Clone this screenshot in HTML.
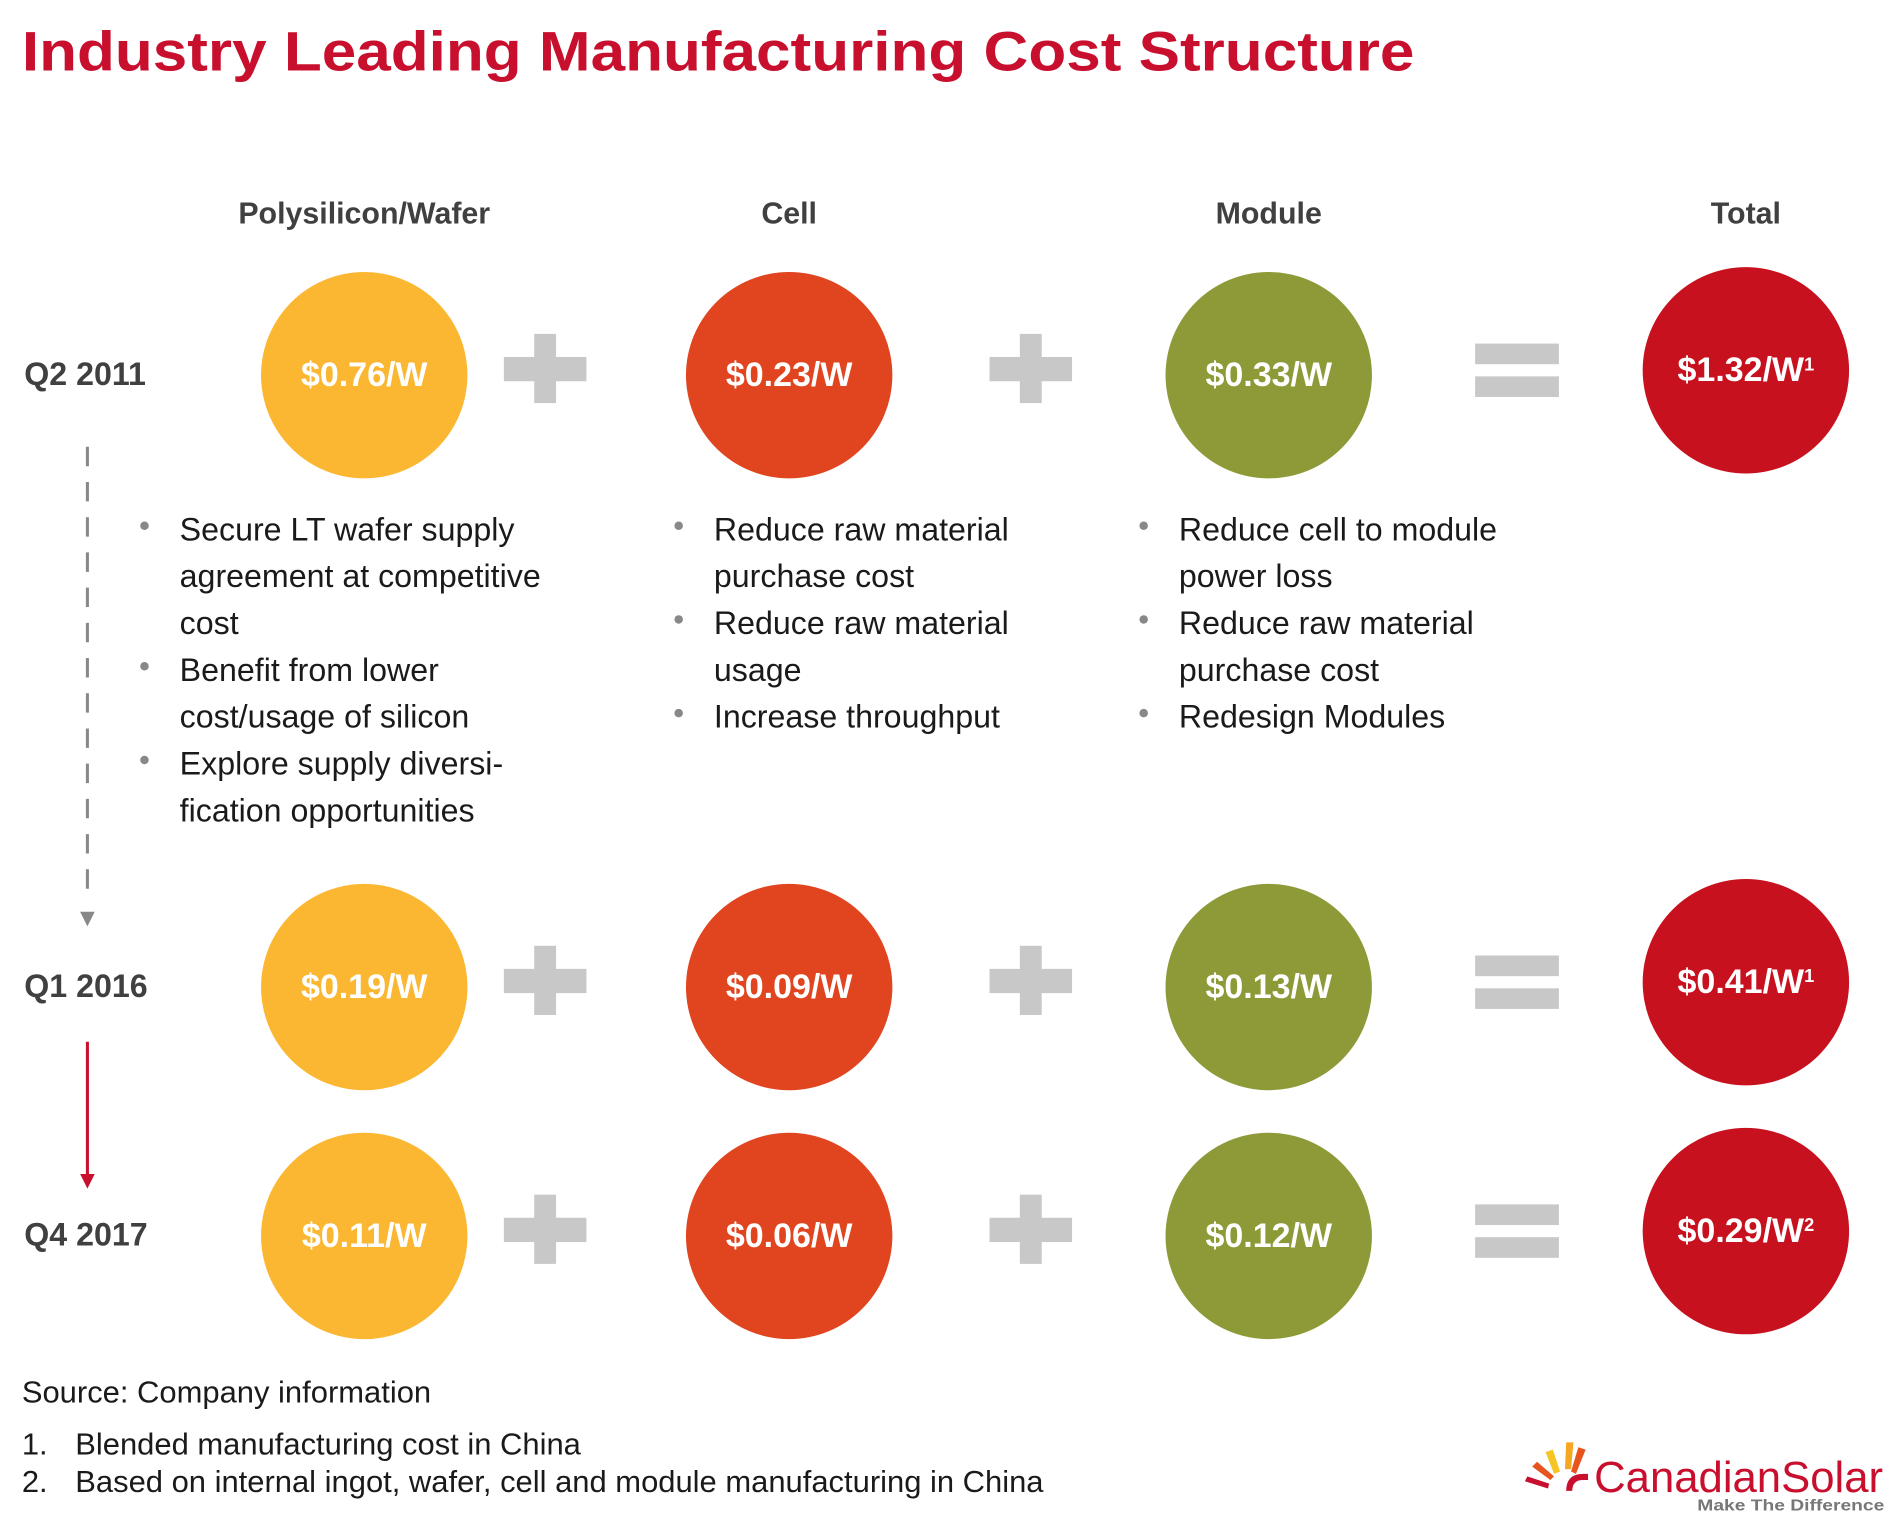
<!DOCTYPE html>
<html><head><meta charset="utf-8"><style>
html,body{margin:0;padding:0;background:#fff}
svg{display:block}
text{font-family:"Liberation Sans",sans-serif}
</style></head><body>
<svg id="chart" width="1894" height="1514" viewBox="0 0 1560 1247" xmlns="http://www.w3.org/2000/svg">
<text x="18" y="58" font-size="46" font-weight="bold" fill="#c8102e" textLength="1147" lengthAdjust="spacingAndGlyphs">Industry Leading Manufacturing Cost Structure</text>
<g id="headers" font-size="25" font-weight="bold" fill="#404040" text-anchor="middle"></g>
<g id="rows"></g>
<g id="ops" fill="#c8c8c8"></g>
<g>
<line x1="72" y1="368" x2="72" y2="745" stroke="#888" stroke-width="2.5" stroke-dasharray="16,13"/>
<polygon points="66,751 78,751 72,763" fill="#888"/>
</g>
<g>
<line x1="72" y1="858" x2="72" y2="970" stroke="#c8102e" stroke-width="2.5"/>
<polygon points="66,967 78,967 72,979" fill="#c8102e"/>
</g>
<g id="bullets" font-size="26.5" fill="#1a1a1a"></g>
<g font-size="25.5" fill="#1a1a1a">
<text x="18" y="1155">Source: Company information</text>
<text x="18" y="1198">1.</text><text x="62" y="1198">Blended manufacturing cost in China</text>
<text x="18" y="1229">2.</text><text x="62" y="1229">Based on internal ingot, wafer, cell and module manufacturing in China</text>
</g>
<g>
<polygon points="1290,1188 1296,1188 1294,1210 1289,1210" fill="#f5a623"/>
<polygon points="1300,1192 1306,1194 1298,1214 1294,1212" fill="#e8541e"/>
<polygon points="1273,1196 1279,1194 1285,1212 1280,1214" fill="#f5c623"/>
<polygon points="1262,1208 1266,1204 1280,1216 1277,1219" fill="#e8541e"/>
<polygon points="1256,1220 1258,1216 1276,1222 1275,1226" fill="#c8102e"/>
<path d="M1290,1228 q0,-14 14,-14 h4 v5 h-4 q-9,0 -9,9 z" fill="#c8102e"/>
<text x="1313" y="1229" font-size="36" fill="#c8102e" textLength="238" lengthAdjust="spacingAndGlyphs">CanadianSolar</text>
<text x="1398" y="1244" font-size="13" font-weight="bold" fill="#777" textLength="154" lengthAdjust="spacingAndGlyphs">Make The Difference</text>
</g>
</svg>
<script>
const categories = ["Polysilicon/Wafer", "Cell", "Module", "Total"];
const periods = ["Q2 2011", "Q1 2016", "Q4 2017"];
const waferValues = ["$0.76/W", "$0.19/W", "$0.11/W"];
const cellValues = ["$0.23/W", "$0.09/W", "$0.06/W"];
const moduleValues = ["$0.33/W", "$0.13/W", "$0.12/W"];
const totalValues = ["$1.32/W", "$0.41/W", "$0.29/W"];
const totalNotes = ["1", "1", "2"];
const bulletsWafer = [["Secure LT wafer supply","agreement at competitive","cost"],["Benefit from lower","cost/usage of silicon"],["Explore supply diversi-","fication opportunities"]];
const bulletsCell = [["Reduce raw material","purchase cost"],["Reduce raw material","usage"],["Increase throughput"]];
const bulletsModule = [["Reduce cell to module","power loss"],["Reduce raw material","purchase cost"],["Redesign Modules"]];

const NS = "http://www.w3.org/2000/svg";
const colX = i => [300, 650, 1045, 1438][i];
const rowY = i => [309, 813, 1018][i];
const colors = ["#fbb731", "#e04520", "#8e9a38", "#c8111e"];
function mk(tag, attrs, parent) { const e = document.createElementNS(NS, tag); for (const k in attrs) e.setAttribute(k, attrs[k]); parent.appendChild(e); return e; }

const hg = document.getElementById("headers");
categories.forEach((c, i) => {
  const t = mk("text", {x: colX(i), y: 184}, hg);
  t.textContent = c;
  
  
});

const rg = document.getElementById("rows");
const og = document.getElementById("ops");
const series = [waferValues, cellValues, moduleValues, totalValues];
periods.forEach((p, r) => {
  const cy = rowY(r);
  const lbl = mk("text", {x: 20, y: cy + 8, "font-size": 26.5, "font-weight": "bold", fill: "#404040"}, rg);
  lbl.textContent = p;
  
  
  series.forEach((vals, c) => {
    const y = c === 3 ? cy - 4 : cy;
    const g = mk("g", {}, rg);
    
    
    mk("circle", {cx: colX(c), cy: y, r: 85, fill: colors[c]}, g);
    const t = mk("text", {x: colX(c), y: y + 9, "font-size": 28, "font-weight": "bold", fill: "#fff", "text-anchor": "middle"}, g);
    t.textContent = vals[r];
    if (c === 3) {
      const s = mk("tspan", {"font-size": 15, dy: -9}, t);
      s.textContent = totalNotes[r];
    }
  });
  [449, 849].forEach(px => {
    const g = mk("g", {}, og);
    
    
    mk("rect", {x: px - 34, y: cy - 15, width: 68, height: 20}, g);
    mk("rect", {x: px - 9, y: cy - 34, width: 18, height: 57}, g);
  });
  const e = mk("g", {}, og);
  
  
  mk("rect", {x: 1215, y: cy - 26, width: 69, height: 17}, e);
  mk("rect", {x: 1215, y: cy + 1, width: 69, height: 17}, e);
});

const bg = document.getElementById("bullets");
[[bulletsWafer, 119, 148], [bulletsCell, 559, 588], [bulletsModule, 942, 971]].forEach(([list, bx, tx]) => {
  let line = 0;
  list.forEach(item => {
    const y = 437 + line * 38.6;
    const d = mk("circle", {cx: bx, cy: y - 4, r: 3.5, fill: "#888"}, bg);
    
    
    item.forEach((ln, k) => {
      const t = mk("text", {x: tx, y: 445 + (line + k) * 38.6}, bg);
      t.textContent = ln;
      
      
    });
    line += item.length;
  });
});
</script>
</body></html>
